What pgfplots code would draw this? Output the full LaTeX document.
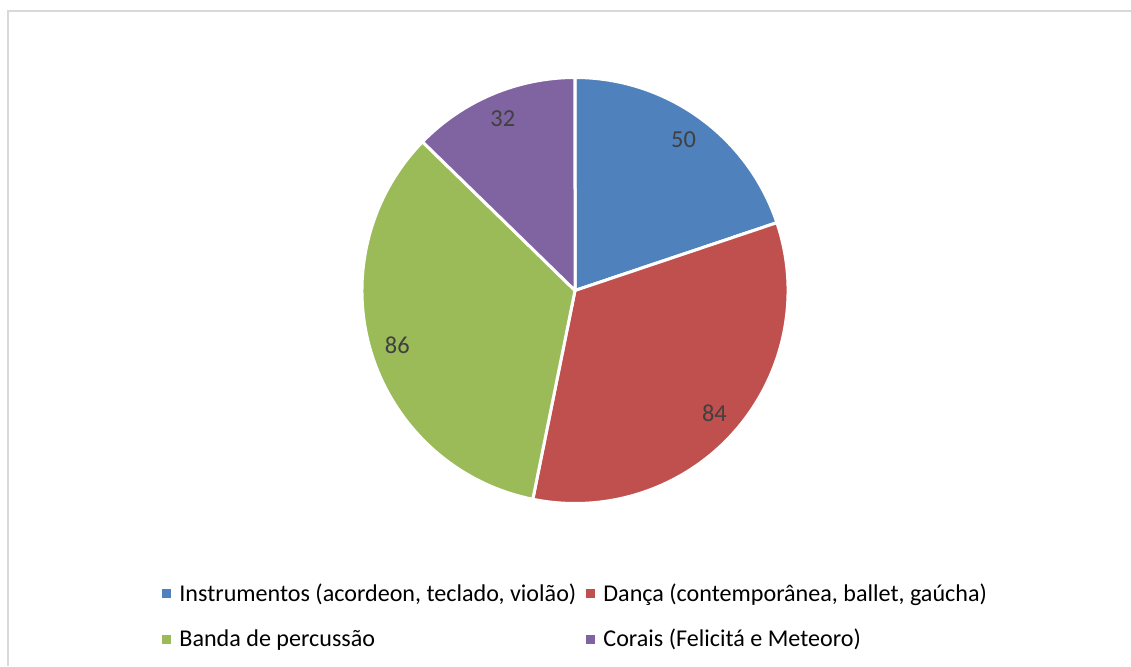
\documentclass[border=0pt]{standalone}
\usepackage{pgfplots}
\pgfplotsset{compat=1.18}
\usepackage{fontspec}
\setmainfont{Carlito}
\definecolor{cA}{HTML}{4F81BD}
\definecolor{cB}{HTML}{C0504D}
\definecolor{cC}{HTML}{9BBB59}
\definecolor{cD}{HTML}{8064A2}
\definecolor{lbl}{HTML}{404040}
\definecolor{framecol}{HTML}{D9D9D9}
% slice values
\def\vA{50}\def\vB{84}\def\vC{86}\def\vD{32}
\pgfmathsetmacro\pieTot{\vA+\vB+\vC+\vD}
\pgfmathsetmacro\pieK{360/\pieTot}
\pgfmathsetmacro\aA{90}
\pgfmathsetmacro\aB{\aA-\pieK*\vA}
\pgfmathsetmacro\aC{\aB-\pieK*\vB}
\pgfmathsetmacro\aD{\aC-\pieK*\vC}
\pgfmathsetmacro\aE{\aD-\pieK*\vD}
\pgfmathsetmacro\mA{(\aA+\aB)/2}
\pgfmathsetmacro\mB{(\aB+\aC)/2}
\pgfmathsetmacro\mC{(\aC+\aD)/2}
\pgfmathsetmacro\mD{(\aD+\aE)/2}
\def\pieRad{106.5pt}
\def\pieLab{93pt}
\tikzset{lab/.style={text=lbl, font=\fontsize{12.2}{15}\selectfont, inner sep=0pt},
  leg/.style={anchor=base west, inner sep=0pt, font=\fontsize{12.05}{15}\selectfont},
  slice/.style={fill=#1, draw=white, line width=1.5pt, line join=round}}
\begin{document}
\begin{tikzpicture}
\begin{axis}[scale only axis, width=565.5pt, height=333pt,
  xmin=0, xmax=1131, ymin=0, ymax=666, axis lines=none, clip=false,
  xtick=\empty, ytick=\empty]
\coordinate (bl) at (axis cs:0,0);
\coordinate (tr) at (axis cs:1131,666);
% frame
\draw[framecol, line width=1pt] (axis cs:7.5,0) -- (axis cs:7.5,654.5) -- (axis cs:1131,654.5);
% slices
\filldraw[slice=cA] (axis cs:575,375.5) -- ++(\aA:\pieRad) arc[start angle=\aA, end angle=\aB, radius=\pieRad] -- cycle;
\filldraw[slice=cB] (axis cs:575,375.5) -- ++(\aB:\pieRad) arc[start angle=\aB, end angle=\aC, radius=\pieRad] -- cycle;
\filldraw[slice=cC] (axis cs:575,375.5) -- ++(\aC:\pieRad) arc[start angle=\aC, end angle=\aD, radius=\pieRad] -- cycle;
\filldraw[slice=cD] (axis cs:575,375.5) -- ++(\aD:\pieRad) arc[start angle=\aD, end angle=\aE, radius=\pieRad] -- cycle;
% data labels
\path (axis cs:575,375.5) ++(\mA:\pieLab) node[lab] {\vA};
\path (axis cs:575,375.5) ++(\mB:\pieLab) node[lab] {\vB};
\path (axis cs:575,375.5) ++(\mC:\pieLab) node[lab] {\vC};
\path (axis cs:575,375.5) ++(\mD:\pieLab) node[lab] {\vD};
% legend
\fill[cA] (axis cs:162,68) rectangle (axis cs:171,77);
\node[leg] at (axis cs:179,64.3) {Instrumentos (acordeon, teclado, violão)};
\fill[cB] (axis cs:586,68) rectangle (axis cs:595,77);
\node[leg] at (axis cs:603,64.3) {Dança (contemporânea, ballet, gaúcha)};
\fill[cC] (axis cs:162,22) rectangle (axis cs:171,31);
\node[leg] at (axis cs:179,19.3) {Banda de percussão};
\fill[cD] (axis cs:586,22) rectangle (axis cs:595,31);
\node[leg] at (axis cs:603,19.3) {Corais (Felicitá e Meteoro)};
\end{axis}
\pgfresetboundingbox
\path[use as bounding box] (bl) rectangle (tr);
\end{tikzpicture}
\end{document}
